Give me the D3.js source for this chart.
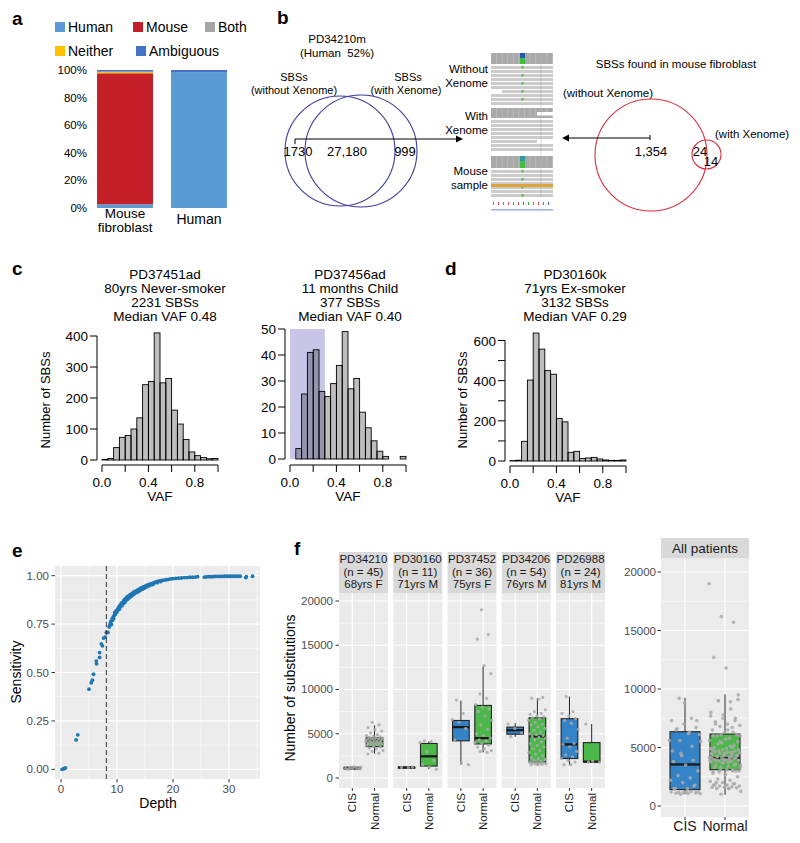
<!DOCTYPE html>
<html>
<head>
<meta charset="utf-8">
<script src="https://cdn.jsdelivr.net/npm/d3@7"></script>
<style>
  body { margin: 0; background: #fff; }
  svg { display: block; font-family: "Liberation Sans", Arial, sans-serif; }
</style>
</head>
<body>
<div id="main"></div>
<script>
// ---------- data ----------
// a: share of reads (%) per sample, stacked bottom -> top
const readCategories = ["Mouse fibroblast", "Human"];
const readSeries = ["Human", "Mouse", "Both", "Neither", "Ambiguous"];
const readHuman = [2.7, 98.5];
const readMouse = [94.9, 0];
const readBoth = [0.2, 0];
const readNeither = [1.0, 0];
const readAmbiguous = [1.2, 1.5];

// b: venn counts
const vennXenome = [1730, 27180, 999];      // without only, both, with only
const vennMouse = [1354, 24, 14];

// c, d: VAF histograms, bins of 0.05 from 0 to 1
const vafBinWidth = 0.05;
const vafPD37451 = [2, 5, 40, 73, 79, 100, 136, 243, 253, 410, 249, 263, 161, 116, 66, 26, 14, 8, 4, 5];
const vafPD37456 = [0, 4, 25, 41, 42, 26, 24, 29, 36, 49, 27, 31, 18, 12, 7, 3, 1, 0, 0, 1];
const vafPD30160 = [2, 4, 98, 403, 637, 557, 450, 432, 212, 195, 43, 48, 12, 15, 18, 10, 5, 3, 3, 5];

// e: sensitivity vs depth
const sensitivityPoints = [
  [0.2, 0.000], [0.5, 0.003], [0.8, 0.007], [2.7, 0.152], [3.0, 0.178],
  [5.0, 0.414], [5.4, 0.447], [5.6, 0.460], [5.8, 0.491], [6.3, 0.559], [6.35, 0.545],
  [6.9, 0.603], [6.9, 0.578], [7.2, 0.648], [7.4, 0.638], [7.6, 0.678], [7.9, 0.683],
  [8.1, 0.707], [8.4, 0.707], [8.6, 0.735], [8.7, 0.743], [8.8, 0.755], [8.9, 0.762],
  [9.0, 0.748], [9.1, 0.776], [9.2, 0.770], [9.3, 0.786], [9.4, 0.778], [9.5, 0.795],
  [9.6, 0.810], [9.7, 0.800], [9.8, 0.812], [9.9, 0.820], [10.0, 0.812], [10.1, 0.826],
  [10.2, 0.830], [10.3, 0.838], [10.4, 0.825], [10.5, 0.845], [10.6, 0.838], [10.7, 0.850],
  [10.8, 0.858], [10.9, 0.845], [11.0, 0.862], [11.1, 0.855], [11.2, 0.870], [11.3, 0.875],
  [11.4, 0.862], [11.5, 0.880], [11.6, 0.872], [11.7, 0.885], [11.8, 0.890], [11.9, 0.878],
  [12.0, 0.893], [12.1, 0.885], [12.2, 0.898], [12.3, 0.890], [12.4, 0.902], [12.5, 0.893],
  [12.6, 0.906], [12.7, 0.898], [12.8, 0.910], [12.9, 0.902], [13.0, 0.915], [13.1, 0.907],
  [13.2, 0.918], [13.3, 0.910], [13.5, 0.923], [13.6, 0.915], [13.7, 0.926], [13.8, 0.918],
  [14.0, 0.930], [14.1, 0.923], [14.2, 0.935], [14.3, 0.928], [14.5, 0.938], [14.6, 0.931],
  [14.7, 0.942], [14.9, 0.936], [15.0, 0.945], [15.1, 0.940], [15.2, 0.948], [15.4, 0.944],
  [15.5, 0.952], [15.7, 0.948], [15.8, 0.955], [16.0, 0.958], [16.2, 0.953], [16.4, 0.962],
  [16.5, 0.957], [16.7, 0.965], [17.0, 0.968], [17.2, 0.964], [17.3, 0.970], [17.6, 0.973],
  [17.8, 0.970], [18.0, 0.975], [18.4, 0.977], [18.8, 0.979], [19.2, 0.981], [19.6, 0.983],
  [20.0, 0.985], [20.5, 0.986], [21.0, 0.987], [21.5, 0.988], [22.0, 0.990], [22.5, 0.990],
  [23.0, 0.992], [23.5, 0.992], [24.0, 0.993], [24.4, 0.995], [25.6, 0.993], [26.0, 0.994],
  [26.4, 0.995], [26.8, 0.995], [27.2, 0.995], [27.6, 0.996], [28.0, 0.996], [28.4, 0.996],
  [28.8, 0.996], [29.2, 0.997], [29.6, 0.997], [30.0, 0.997], [30.4, 0.997], [30.8, 0.997],
  [31.2, 0.997], [31.6, 0.997], [32.0, 0.997], [33.0, 0.990], [33.1, 0.995], [34.2, 0.997]
];
const depthCutoff = 8.1;

// f: substitutions per clone
const patients = ["PD34210", "PD30160", "PD37452", "PD34206", "PD26988"];
const patientN = [45, 11, 36, 54, 24];
const patientInfo = ["68yrs F", "71yrs M", "75yrs F", "76yrs M", "81yrs M"];
const groups = ["CIS", "Normal"];
const subsCIS = [
  [1000, 1050, 1080, 1100, 1120, 1150, 1200, 1250],
  [1180, 1200, 1220],
  [1500, 1700, 4300, 5600, 6300, 6600, 7300, 8800],
  [4700, 5100, 5600, 6100],
  [1500, 1500, 1800, 2000, 2200, 2400, 2600, 3000, 3500, 3800, 3900, 4500, 5500, 6200, 6500, 6700, 7000, 7300, 7500, 9200]
];
const subsNormal = [
  [2700, 2800, 3000, 3100, 3300, 3400, 3500, 3600, 3700, 3750, 3800, 3850, 3900, 3950, 4000, 4050, 4100, 4150, 4200, 4250,
   4300, 4350, 4400, 4450, 4500, 4550, 4600, 4650, 4700, 4800, 4900, 5100, 5300, 5500, 5700, 6000, 6300],
  [1000, 1250, 1500, 2000, 3000, 4000, 4100, 4200],
  [2900, 3000, 3100, 3300, 3500, 3700, 3900, 4000, 4200, 4300, 4500, 4800, 5000, 5500, 6000, 6500, 7000, 7500, 7800, 8000,
   8300, 9000, 9500, 11800, 12700, 15700, 16200, 19000],
  [1500, 1500, 1550, 1600, 1600, 1650, 1700, 1700, 1800, 1800, 1900, 2000, 2100, 2200, 2300, 2500, 2700, 2900, 3100, 3300,
   3500, 3700, 3900, 4100, 4300, 4500, 4600, 4700, 4800, 4900, 5000, 5200, 5400, 5600, 5800, 6000, 6100, 6300, 6500, 6700,
   6800, 6900, 7000, 7200, 7300, 7500, 7700, 8900, 9000, 9100],
  [1800, 1800, 1900, 6100]
];
// box stats: [lower whisker, q1, median, q3, upper whisker]
const boxCIS = [
  [950, 1020, 1100, 1220, 1280],
  [1150, 1160, 1190, 1230, 1240],
  [1500, 4200, 5750, 6500, 8750],
  [4650, 4950, 5400, 5750, 6200],
  [1450, 2200, 3800, 6700, 9200]
];
const boxNormal = [
  [2750, 3550, 4250, 4550, 5950],
  [1000, 1350, 2450, 3900, 4150],
  [2900, 3850, 4500, 8200, 12600],
  [1400, 1800, 4700, 6800, 9050],
  [1750, 1800, 1850, 4000, 6100]
];
const boxAllCIS = [1000, 1400, 3550, 6350, 9250];
const boxAllNormal = [950, 3100, 4100, 6150, 9550];
const subsTicks = [0, 5000, 10000, 15000, 20000];

// ---------- helpers ----------
const svg = d3.select("#main").append("svg").attr("width", 800).attr("height", 843);
svg.append("rect").attr("width", 800).attr("height", 843).attr("fill", "#fff");

function txt(g, x, y, s, o = {}) {
  const t = g.append("text").attr("x", x).attr("y", y).text(s)
    .attr("font-size", o.size || 12)
    .attr("text-anchor", o.anchor || "start")
    .attr("fill", o.fill || "#000");
  if (o.weight) t.attr("font-weight", o.weight);
  if (o.rotate) t.attr("transform", `rotate(${o.rotate},${x},${y})`);
  return t;
}

function arrowHead(g, x, y, dir, color) {
  // small filled triangle, dir = 1 right, -1 left
  g.append("path")
    .attr("d", `M${x},${y} L${x - dir * 7},${y - 3.5} L${x - dir * 7},${y + 3.5} Z`)
    .attr("fill", color);
}

// panel letters
[["a", 12, 25], ["b", 277, 24], ["c", 12, 275], ["d", 445, 275], ["e", 12, 557], ["f", 294, 555]]
  .forEach(([l, x, y]) => txt(svg, x, y, l, { size: 19, weight: "bold" }));

// ---------- a ----------
{
  const g = svg.append("g");
  const colors = { Human: "#5b9bd5", Mouse: "#c5202a", Both: "#a5a5a5", Neither: "#ffc000", Ambiguous: "#4472c4" };
  const table = readCategories.map((c, i) => ({
    cat: c, Human: readHuman[i], Mouse: readMouse[i], Both: readBoth[i], Neither: readNeither[i], Ambiguous: readAmbiguous[i]
  }));
  const x = d3.scaleBand().domain(readCategories).range([88, 236]).paddingInner(0.243).paddingOuter(0.122);
  const y = d3.scaleLinear().domain([0, 100]).range([208, 70]);
  const stacked = d3.stack().keys(readSeries)(table);

  g.selectAll("g.layer").data(stacked).join("g").attr("fill", d => colors[d.key])
    .selectAll("rect").data(d => d).join("rect")
    .attr("x", d => x(d.data.cat)).attr("width", x.bandwidth())
    .attr("y", d => y(d[1])).attr("height", d => y(d[0]) - y(d[1]));

  [0, 20, 40, 60, 80, 100].forEach(v => txt(g, 87, y(v) + 4, v + "%", { size: 11.5, anchor: "end" }));

  const cx = c => x(c) + x.bandwidth() / 2;
  txt(g, cx("Mouse fibroblast"), 218, "Mouse", { size: 13.5, anchor: "middle" });
  txt(g, cx("Mouse fibroblast"), 232, "fibroblast", { size: 13.5, anchor: "middle" });
  txt(g, cx("Human"), 224, "Human", { size: 14, anchor: "middle" });

  const legend = [["Human", 55, 22], ["Mouse", 133, 22], ["Both", 205, 22], ["Neither", 55, 46], ["Ambiguous", 136, 46]];
  legend.forEach(([k, lx, ly]) => {
    g.append("rect").attr("x", lx).attr("y", ly).attr("width", 10).attr("height", 10).attr("fill", colors[k]);
    txt(g, lx + 13, ly + 10, k, { size: 14 });
  });
}

// ---------- b ----------
{
  const g = svg.append("g");
  const blue = "#3d3d9e", red = "#d5303c";
  txt(g, 337, 43, "PD34210m", { size: 11.5, anchor: "middle" });
  txt(g, 337, 57, "(Human  52%)", { size: 11.5, anchor: "middle" }).style("white-space", "pre");
  txt(g, 294, 81, "SBSs", { size: 11, anchor: "middle" });
  txt(g, 294, 94, "(without Xenome)", { size: 11, anchor: "middle" });
  txt(g, 408, 81, "SBSs", { size: 11, anchor: "middle" });
  txt(g, 406, 94, "(with Xenome)", { size: 11, anchor: "middle" });
  g.append("circle").attr("cx", 340).attr("cy", 151).attr("r", 55).attr("fill", "none").attr("stroke", blue).attr("stroke-width", 1.1);
  g.append("circle").attr("cx", 361).attr("cy", 151).attr("r", 56).attr("fill", "none").attr("stroke", blue).attr("stroke-width", 1.1);
  const fmt = d3.format(",");
  txt(g, 298, 156, String(vennXenome[0]), { size: 13, anchor: "middle" });
  txt(g, 347, 156, fmt(vennXenome[1]), { size: 13, anchor: "middle" });
  txt(g, 405, 156, String(vennXenome[2]), { size: 13, anchor: "middle" });
  g.append("line").attr("x1", 295).attr("x2", 457).attr("y1", 139).attr("y2", 139).attr("stroke", "#000");
  g.append("line").attr("x1", 295).attr("x2", 295).attr("y1", 139).attr("y2", 144).attr("stroke", "#000");
  arrowHead(g, 463, 139, 1, "#000");

  // IGV snapshot
  const ig = g.append("g");
  const igvX0 = 491, igvX1 = 553, varX = 520;
  const igvPanels = [
    { top: 53, cov: 11, bottom: 105, top1: "#2456b8", top2: "#3fbf3f", gaps: [[491, 502, 90]] },
    { top: 108, cov: 10, bottom: 151, gaps: [[537, 553, 112], [537, 553, 140]] },
    { top: 156, cov: 12, bottom: 198, top1: "#2a9aa0", top2: "#3fbf3f", gaps: [], orange: 184 }
  ];
  igvPanels.forEach(p => {
    ig.append("rect").attr("x", igvX0).attr("y", p.top).attr("width", igvX1 - igvX0).attr("height", p.cov).attr("fill", "#a9a9a9");
    d3.range(igvX0 + 5.5, igvX1, 5.6).forEach(xx =>
      ig.append("line").attr("x1", xx).attr("x2", xx).attr("y1", p.top).attr("y2", p.top + p.cov).attr("stroke", "#c4c4c4").attr("stroke-width", 0.6));
    if (p.top1) {
      ig.append("rect").attr("x", varX).attr("y", p.top).attr("width", 5).attr("height", p.cov * 0.45).attr("fill", p.top1);
      ig.append("rect").attr("x", varX).attr("y", p.top + p.cov * 0.45).attr("width", 5).attr("height", p.cov * 0.55).attr("fill", p.top2);
    }
    d3.range(p.top + p.cov + 2, p.bottom, 4).forEach((yy, ri) => {
      ig.append("rect").attr("x", igvX0).attr("y", yy).attr("width", igvX1 - igvX0).attr("height", 3).attr("fill", "#cbcbcb");
      if (p.top1 && ri % 2 === 0) ig.append("rect").attr("x", varX + 1.5).attr("y", yy).attr("width", 2).attr("height", 2.5).attr("fill", "#44bb44");
    });
    p.gaps.forEach(([a, b, yy]) => ig.append("rect").attr("x", a).attr("y", yy).attr("width", b - a).attr("height", 3.5).attr("fill", "#fff"));
    if (p.orange) {
      ig.append("rect").attr("x", igvX0).attr("y", p.orange).attr("width", igvX1 - igvX0).attr("height", 3).attr("fill", "#e0a53a");
    }
  });
  ig.append("line").attr("x1", 541).attr("x2", 541).attr("y1", 53).attr("y2", 198).attr("stroke", "#999").attr("stroke-width", 0.4);
  const rulerCols = ["#e05050", "#e05050", "#e05050", "#e05050", "#e05050", "#e05050", "#4060d0", "#40b040", "#40b040", "#e05050", "#e05050", "#4060d0"];
  rulerCols.forEach((c, i) => ig.append("rect").attr("x", igvX0 + 2 + i * 5).attr("y", 202).attr("width", 1).attr("height", 3).attr("fill", c));
  ig.append("rect").attr("x", igvX0).attr("y", 209).attr("width", igvX1 - igvX0).attr("height", 1.5).attr("fill", "#9fb0e0");

  [["Without", 73], ["Xenome", 87], ["With", 120], ["Xenome", 134], ["Mouse", 175], ["sample", 189]]
    .forEach(([s, yy]) => txt(g, 488, yy, s, { size: 11.5, anchor: "end" }));

  // mouse venn
  txt(g, 676, 68, "SBSs found in mouse fibroblast", { size: 11.5, anchor: "middle" });
  txt(g, 608, 97, "(without Xenome)", { size: 11.5, anchor: "middle" });
  txt(g, 715, 138, "(with Xenome)", { size: 11.5 });
  g.append("circle").attr("cx", 651).attr("cy", 155).attr("r", 56).attr("fill", "none").attr("stroke", red).attr("stroke-width", 1.1);
  g.append("circle").attr("cx", 706.5).attr("cy", 154.5).attr("r", 14.5).attr("fill", "none").attr("stroke", red).attr("stroke-width", 1.1);
  txt(g, 651, 156, fmt(vennMouse[0]), { size: 13, anchor: "middle" });
  txt(g, 700, 156, String(vennMouse[1]), { size: 13, anchor: "middle" });
  txt(g, 711, 166, String(vennMouse[2]), { size: 13, anchor: "middle" });
  g.append("line").attr("x1", 650).attr("x2", 569).attr("y1", 138).attr("y2", 138).attr("stroke", "#000");
  g.append("line").attr("x1", 650).attr("x2", 650).attr("y1", 135).attr("y2", 140).attr("stroke", "#000");
  arrowHead(g, 562, 138, -1, "#000");
}

// ---------- c, d ----------
function vafHist(o) {
  const g = svg.append("g");
  const x = d3.scaleLinear().domain([0, 1]).range([o.x0, o.x1]);
  const y = d3.scaleLinear().domain([0, o.yMax]).range([o.yBase, o.yTop]);
  if (o.shadeTo) {
    g.append("rect").attr("x", x(0)).attr("y", y(o.yMax))
      .attr("width", x(o.shadeTo) - x(0)).attr("height", y(0) - y(o.yMax)).attr("fill", "#c8c6e8");
  }
  g.selectAll("rect.bar").data(o.counts).join("rect").attr("class", "bar")
    .attr("x", (d, i) => x(i * vafBinWidth)).attr("width", x(vafBinWidth) - x(0))
    .attr("y", d => y(d)).attr("height", d => y(0) - y(d))
    .attr("fill", "rgba(0,0,0,0.255)").attr("stroke", "#000").attr("stroke-width", 0.9);

  // y axis
  g.append("line").attr("x1", o.axisX).attr("x2", o.axisX).attr("y1", y(0)).attr("y2", y(o.yMax)).attr("stroke", "#000");
  d3.range(0, o.yMax + 1, o.tickStep).forEach(v => {
    g.append("line").attr("x1", o.axisX - 7).attr("x2", o.axisX).attr("y1", y(v)).attr("y2", y(v)).attr("stroke", "#000");
    if (v % o.labelStep === 0) txt(g, o.axisX - 9, y(v) + 5, String(v), { size: 13.5, anchor: "end" });
  });
  // x axis
  g.append("line").attr("x1", x(0)).attr("x2", x(1)).attr("y1", o.xAxisY).attr("y2", o.xAxisY).attr("stroke", "#000");
  [0, 0.2, 0.4, 0.6, 0.8, 1].forEach(v =>
    g.append("line").attr("x1", x(v)).attr("x2", x(v)).attr("y1", o.xAxisY).attr("y2", o.xAxisY + 7).attr("stroke", "#000"));
  [0, 0.4, 0.8].forEach(v => txt(g, x(v), o.xAxisY + 22, v.toFixed(1), { size: 13.5, anchor: "middle" }));
  txt(g, x(0.5), o.xAxisY + 36, "VAF", { size: 13.5, anchor: "middle" });
  if (o.ylabX) txt(g, o.ylabX, 400, "Number of SBSs", { size: 13, anchor: "middle", rotate: -90 });
  o.title.forEach((s, i) => txt(g, o.titleX, 279 + i * 14, s, { size: 13.5, anchor: "middle" }));
}

vafHist({ counts: vafPD37451, x0: 102, x1: 218, yBase: 460, yTop: 336, yMax: 400, tickStep: 100, labelStep: 100,
  axisX: 97, xAxisY: 465, ylabX: 50, titleX: 165,
  title: ["PD37451ad", "80yrs Never-smoker", "2231 SBSs", "Median VAF 0.48"] });
vafHist({ counts: vafPD37456, x0: 290, x1: 406, yBase: 459, yTop: 329, yMax: 50, tickStep: 10, labelStep: 10,
  axisX: 285, xAxisY: 465, titleX: 350, shadeTo: 0.3,
  title: ["PD37456ad", "11 months Child", "377 SBSs", "Median VAF 0.40"] });
vafHist({ counts: vafPD30160, x0: 510, x1: 626, yBase: 461, yTop: 340.5, yMax: 600, tickStep: 100, labelStep: 200,
  axisX: 505, xAxisY: 466, ylabX: 467, titleX: 575,
  title: ["PD30160k", "71yrs Ex-smoker", "3132 SBSs", "Median VAF 0.29"] });

// ---------- e ----------
{
  const g = svg.append("g");
  const x = d3.scaleLinear().domain([-1.07, 35.54]).range([55, 260]);
  const y = d3.scaleLinear().domain([-0.05, 1.05]).range([779, 566]);
  g.append("rect").attr("x", 55).attr("y", 566).attr("width", 205).attr("height", 213).attr("fill", "#ebebeb");
  [5, 15, 25, 35].forEach(v => g.append("line").attr("x1", x(v)).attr("x2", x(v)).attr("y1", 566).attr("y2", 779).attr("stroke", "#fff").attr("stroke-width", 0.6));
  [0.125, 0.375, 0.625, 0.875].forEach(v => g.append("line").attr("x1", 55).attr("x2", 260).attr("y1", y(v)).attr("y2", y(v)).attr("stroke", "#fff").attr("stroke-width", 0.6));
  [0, 10, 20, 30].forEach(v => g.append("line").attr("x1", x(v)).attr("x2", x(v)).attr("y1", 566).attr("y2", 779).attr("stroke", "#fff").attr("stroke-width", 1.2));
  [0, 0.25, 0.5, 0.75, 1].forEach(v => g.append("line").attr("x1", 55).attr("x2", 260).attr("y1", y(v)).attr("y2", y(v)).attr("stroke", "#fff").attr("stroke-width", 1.2));

  g.selectAll("circle").data(sensitivityPoints).join("circle")
    .attr("cx", d => x(d[0])).attr("cy", d => y(d[1])).attr("r", 1.9).attr("fill", "#1f77b4");
  g.append("line").attr("x1", x(depthCutoff)).attr("x2", x(depthCutoff)).attr("y1", 566).attr("y2", 779)
    .attr("stroke", "#333").attr("stroke-width", 1).attr("stroke-dasharray", "5,3");

  [0, 0.25, 0.5, 0.75, 1].forEach(v => {
    g.append("line").attr("x1", 51.5).attr("x2", 55).attr("y1", y(v)).attr("y2", y(v)).attr("stroke", "#333");
    txt(g, 49, y(v) + 4, v.toFixed(2), { size: 11.5, anchor: "end", fill: "#4d4d4d" });
  });
  [0, 10, 20, 30].forEach(v => {
    g.append("line").attr("x1", x(v)).attr("x2", x(v)).attr("y1", 779).attr("y2", 782.5).attr("stroke", "#333");
    txt(g, x(v), 793, String(v), { size: 11.5, anchor: "middle", fill: "#4d4d4d" });
  });
  txt(g, 158, 808, "Depth", { size: 14, anchor: "middle" });
  txt(g, 21, 672, "Sensitivity", { size: 14, anchor: "middle", rotate: -90 });
}

// ---------- f ----------
const groupFill = { CIS: "#3383c6", Normal: "#4cb84a" };
const jitter = i => ((i * 0.6180339887 + 0.27) % 1) * 0.8 - 0.4;

function drawBox(g, cx, w, s, y, fill) {
  g.append("line").attr("x1", cx).attr("x2", cx).attr("y1", y(s[0])).attr("y2", y(s[1])).attr("stroke", "#222").attr("stroke-width", 1);
  g.append("line").attr("x1", cx).attr("x2", cx).attr("y1", y(s[3])).attr("y2", y(s[4])).attr("stroke", "#222").attr("stroke-width", 1);
  g.append("rect").attr("x", cx - w / 2).attr("y", y(s[3])).attr("width", w).attr("height", Math.max(1, y(s[1]) - y(s[3])))
    .attr("fill", fill).attr("stroke", "#222").attr("stroke-width", 1.1);
  g.append("line").attr("x1", cx - w / 2).attr("x2", cx + w / 2).attr("y1", y(s[2])).attr("y2", y(s[2])).attr("stroke", "#1a1a1a").attr("stroke-width", 2.3);
}

function drawPanelGrid(g, x0, w, y, yTop, yBot, catX) {
  g.append("rect").attr("x", x0).attr("y", yTop).attr("width", w).attr("height", yBot - yTop).attr("fill", "#ebebeb");
  [2500, 7500, 12500, 17500].forEach(v => g.append("line").attr("x1", x0).attr("x2", x0 + w).attr("y1", y(v)).attr("y2", y(v)).attr("stroke", "#fff").attr("stroke-width", 0.6));
  subsTicks.forEach(v => g.append("line").attr("x1", x0).attr("x2", x0 + w).attr("y1", y(v)).attr("y2", y(v)).attr("stroke", "#fff").attr("stroke-width", 1.2));
  groups.forEach(k => g.append("line").attr("x1", catX(k)).attr("x2", catX(k)).attr("y1", yTop).attr("y2", yBot).attr("stroke", "#fff").attr("stroke-width", 1.2));
}

function drawPoints(g, vals, cx, halfUnit, y, offset, r) {
  vals.forEach((v, i) => g.append("circle").attr("cx", cx + jitter(i + offset) * halfUnit).attr("cy", y(v))
    .attr("r", r).attr("fill", "#a9a9a9").attr("fill-opacity", 0.85));
}

{
  const g = svg.append("g");
  const yTop = 593, yBot = 788;
  const y = d3.scaleLinear().domain([-1130, 20904]).range([yBot, yTop]);
  const facet = d3.scaleBand().domain(patients).range([339, 605]).paddingInner(0.1);
  const bw = facet.bandwidth();
  const unit = bw / 2.2;

  patients.forEach((p, pi) => {
    const x0 = facet(p);
    const catX = k => x0 + (groups.indexOf(k) + 1 - 0.4) * unit;
    drawPanelGrid(g, x0, bw, y, yTop, yBot, catX);
    drawBox(g, catX("CIS"), 0.75 * unit, boxCIS[pi], y, groupFill.CIS);
    drawBox(g, catX("Normal"), 0.75 * unit, boxNormal[pi], y, groupFill.Normal);
    drawPoints(g, subsCIS[pi], catX("CIS"), unit, y, pi * 7, 1.6);
    drawPoints(g, subsNormal[pi], catX("Normal"), unit, y, pi * 11 + 3, 1.6);

    g.append("rect").attr("x", x0).attr("y", 552).attr("width", bw).attr("height", 41).attr("fill", "#d9d9d9");
    const cx = x0 + bw / 2;
    txt(g, cx, 563, p, { size: 11.5, anchor: "middle", fill: "#1a1a1a" });
    txt(g, cx, 575.5, `(n = ${patientN[pi]})`, { size: 11.5, anchor: "middle", fill: "#1a1a1a" });
    txt(g, cx, 588, patientInfo[pi], { size: 11.5, anchor: "middle", fill: "#1a1a1a" });

    groups.forEach(k => {
      g.append("line").attr("x1", catX(k)).attr("x2", catX(k)).attr("y1", yBot).attr("y2", yBot + 3).attr("stroke", "#333");
      txt(g, catX(k), yBot + 5, k, { size: 11.5, anchor: "end", fill: "#1a1a1a", rotate: -90 }).attr("dy", "0.35em");
    });
  });
  subsTicks.forEach(v => {
    g.append("line").attr("x1", 335.5).attr("x2", 339).attr("y1", y(v)).attr("y2", y(v)).attr("stroke", "#333");
    txt(g, 333, y(v) + 4, String(v), { size: 11.5, anchor: "end", fill: "#4d4d4d" });
  });
  txt(g, 295, 688, "Number of substitutions", { size: 14, anchor: "middle", rotate: -90 });
}

// all patients
{
  const g = svg.append("g");
  const yTop = 558, yBot = 817, x0 = 661, w = 88;
  const y = d3.scaleLinear().domain([-940, 21197]).range([yBot, yTop]);
  const unit = w / 2.2;
  const catX = k => x0 + (groups.indexOf(k) + 1 - 0.4) * unit;
  drawPanelGrid(g, x0, w, y, yTop, yBot, catX);
  drawBox(g, catX("CIS"), 0.75 * unit, boxAllCIS, y, groupFill.CIS);
  drawBox(g, catX("Normal"), 0.75 * unit, boxAllNormal, y, groupFill.Normal);
  drawPoints(g, subsCIS.flat(), catX("CIS"), unit, y, 5, 1.8);
  drawPoints(g, subsNormal.flat(), catX("Normal"), unit, y, 2, 1.8);

  g.append("rect").attr("x", x0).attr("y", 538).attr("width", w).attr("height", 20).attr("fill", "#d9d9d9");
  txt(g, x0 + w / 2, 553, "All patients", { size: 13.5, anchor: "middle", fill: "#1a1a1a" });
  subsTicks.forEach(v => {
    g.append("line").attr("x1", 657.5).attr("x2", 661).attr("y1", y(v)).attr("y2", y(v)).attr("stroke", "#333");
    txt(g, 656, y(v) + 4, String(v), { size: 11.5, anchor: "end", fill: "#4d4d4d" });
  });
  groups.forEach(k => {
    g.append("line").attr("x1", catX(k)).attr("x2", catX(k)).attr("y1", yBot).attr("y2", yBot + 3).attr("stroke", "#333");
    txt(g, catX(k), 831, k, { size: 14, anchor: "middle", fill: "#1a1a1a" });
  });
}
</script>
</body>
</html>
